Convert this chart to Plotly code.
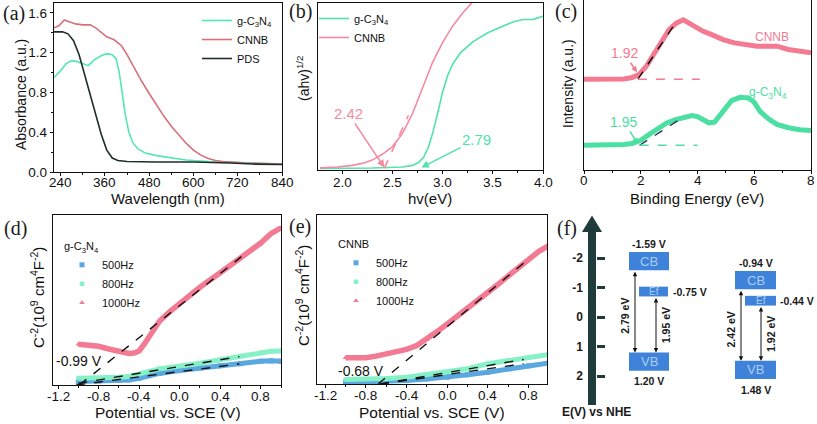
import plotly.graph_objects as go

W, H = 817, 424
def PX(x): return x / W
def PY(y): return 1 - y / H

SANS = "Liberation Sans, Arial, sans-serif"
SERIF = "Liberation Serif, Times New Roman, serif"
INK = "#111111"

# ---------------- (a) UV-vis absorbance ----------------
wl_g = [222, 240, 255, 270, 285, 300, 315, 332, 350, 365, 380, 390, 398, 406, 415, 425, 435, 450, 470, 500, 540, 580, 640, 720, 840]
abs_g = [0.95, 1.02, 1.09, 1.12, 1.11, 1.09, 1.07, 1.13, 1.17, 1.19, 1.18, 1.14, 1.02, 0.82, 0.58, 0.40, 0.30, 0.23, 0.19, 0.165, 0.14, 0.12, 0.105, 0.095, 0.08]
wl_c = [222, 235, 250, 265, 280, 300, 320, 335, 350, 365, 385, 405, 420, 440, 460, 480, 500, 520, 540, 560, 580, 600, 620, 640, 660, 680, 700, 740, 790, 840]
abs_c = [1.45, 1.47, 1.53, 1.51, 1.49, 1.48, 1.48, 1.45, 1.40, 1.36, 1.33, 1.27, 1.18, 1.04, 0.91, 0.79, 0.67, 0.56, 0.46, 0.37, 0.29, 0.22, 0.17, 0.135, 0.115, 0.105, 0.1, 0.09, 0.085, 0.08]
wl_p = [222, 245, 260, 275, 290, 305, 320, 335, 350, 365, 380, 395, 420, 500, 600, 700, 760, 840]
abs_p = [1.41, 1.41, 1.39, 1.32, 1.18, 0.98, 0.78, 0.57, 0.38, 0.22, 0.14, 0.115, 0.105, 0.1, 0.1, 0.09, 0.08, 0.075]
a_xticks = [240, 360, 480, 600, 720, 840]
a_xticktext = ["240", "360", "480", "600", "720", "840"]
a_yticks = [0.0, 0.4, 0.8, 1.2, 1.6]
a_yticktext = ["0.0", "0.4", "0.8", "1.2", "1.6"]

# ---------------- (b) Tauc plot ----------------
hv_g = [1.78, 2.3, 2.6, 2.7, 2.76, 2.81, 2.86, 2.9, 2.95, 3.0, 3.05, 3.1, 3.18, 3.3, 3.45, 3.6, 3.7, 3.8, 3.9, 3.95, 4.0]
ahv_g = [0.0, 0.002, 0.008, 0.018, 0.035, 0.065, 0.13, 0.21, 0.33, 0.46, 0.56, 0.63, 0.7, 0.765, 0.82, 0.86, 0.885, 0.9, 0.9, 0.91, 0.92]
hv_c = [1.78, 1.95, 2.1, 2.2, 2.3, 2.4, 2.5, 2.6, 2.7, 2.8, 2.9, 3.0, 3.1, 3.2, 3.32]
ahv_c = [0.003, 0.008, 0.018, 0.03, 0.05, 0.085, 0.13, 0.21, 0.33, 0.49, 0.64, 0.76, 0.86, 0.94, 1.02]
tan_b_x = [2.42, 2.66]
tan_b_y = [0.0, 0.32]
gap_b = [2.42, 2.79]
b_xticks = [2.0, 2.5, 3.0, 3.5, 4.0]
b_xticktext = ["2.0", "2.5", "3.0", "3.5", "4.0"]

# ---------------- (c) VB-XPS ----------------
be_c = [0, 0.5, 1.0, 1.4, 1.7, 1.95, 2.2, 2.45, 2.7, 3.0, 3.25, 3.5, 3.7, 3.9, 4.2, 4.5, 4.9, 5.3, 5.7, 6.1, 6.5, 6.8, 7.2, 7.6, 8.0]
int_c = [2.75, 2.75, 2.75, 2.76, 2.8, 2.9, 3.15, 3.5, 3.85, 4.25, 4.45, 4.55, 4.45, 4.35, 4.2, 4.1, 3.95, 3.85, 3.8, 3.75, 3.75, 3.75, 3.65, 3.6, 3.55]
be_g = [0, 0.5, 1.0, 1.4, 1.7, 2.0, 2.3, 2.6, 2.9, 3.2, 3.5, 3.8, 4.0, 4.2, 4.4, 4.6, 4.8, 5.0, 5.2, 5.5, 5.8, 6.0, 6.2, 6.5, 6.8, 7.2, 7.6, 8.0]
int_g = [0.75, 0.75, 0.75, 0.77, 0.8, 0.9, 1.08, 1.27, 1.42, 1.52, 1.6, 1.65, 1.62, 1.52, 1.43, 1.45, 1.65, 1.9, 2.1, 2.2, 2.18, 2.05, 1.78, 1.55, 1.38, 1.28, 1.22, 1.2]
tan_c_x = [1.9, 3.14]
tan_c_y = [2.75, 4.35]
base_c_x = [1.9, 4.08]
base_c_y = [2.75, 2.75]
tan_g_x = [1.96, 3.5]
tan_g_y = [0.75, 1.6]
base_g_x = [1.96, 4.0]
base_g_y = [0.75, 0.75]
c_xticks = [0, 2, 4, 6, 8]
c_xticktext = ["0", "2", "4", "6", "8"]

# ---------------- (d) Mott-Schottky g-C3N4 ----------------
v_d = [-1.0, -0.9, -0.8, -0.7, -0.6, -0.5, -0.45, -0.4, -0.35, -0.3, -0.2, -0.1, 0.0, 0.2, 0.4, 0.6, 0.8, 0.9, 1.0]
d_1000 = [0.24, 0.235, 0.228, 0.212, 0.196, 0.186, 0.188, 0.2, 0.24, 0.29, 0.375, 0.43, 0.48, 0.575, 0.66, 0.745, 0.835, 0.89, 0.925]
v_d2 = [-1.0, -0.8, -0.6, -0.5, -0.4, -0.3, -0.2, 0.0, 0.2, 0.4, 0.6, 0.8, 0.9, 1.0]
d_800 = [0.04, 0.04, 0.045, 0.05, 0.062, 0.08, 0.095, 0.11, 0.128, 0.148, 0.17, 0.19, 0.198, 0.2]
d_500 = [0.02, 0.023, 0.027, 0.03, 0.04, 0.055, 0.068, 0.085, 0.1, 0.113, 0.125, 0.14, 0.142, 0.14]
tan_d = {"1000Hz": ([-0.99, 0.61], [0.0, 0.755]),
         "800Hz": ([-1.0, 0.59], [0.01, 0.167]),
         "500Hz": ([-1.02, 0.59], [0.0, 0.124])}
efb_d = -0.99

# ---------------- (e) Mott-Schottky CNNB ----------------
v_e = [-1.0, -0.9, -0.8, -0.7, -0.6, -0.5, -0.4, -0.3, -0.2, -0.1, 0.0, 0.1, 0.2, 0.3, 0.4, 0.5, 0.6, 0.7, 0.8, 0.9, 1.0]
e_1000 = [0.155, 0.155, 0.155, 0.165, 0.178, 0.19, 0.205, 0.228, 0.265, 0.31, 0.355, 0.4, 0.45, 0.5, 0.545, 0.59, 0.64, 0.69, 0.74, 0.785, 0.82]
v_e2 = [-1.0, -0.8, -0.6, -0.4, -0.2, 0.0, 0.2, 0.4, 0.6, 0.8, 1.0]
e_800 = [0.026, 0.028, 0.032, 0.04, 0.055, 0.07, 0.09, 0.12, 0.14, 0.158, 0.175]
e_500 = [0.01, 0.012, 0.015, 0.02, 0.03, 0.04, 0.055, 0.07, 0.09, 0.108, 0.125]
tan_e = {"1000Hz": ([-0.68, 0.75], [0.0, 0.715]),
         "800Hz": ([-0.66, 0.75], [0.0, 0.145]),
         "500Hz": ([-0.66, 0.75], [0.0, 0.12])}
efb_e = -0.68
ms_xticks = [-1.2, -0.8, -0.4, 0.0, 0.4, 0.8]
ms_xticktext = ["-1.2", "-0.8", "-0.4", "0.0", "0.4", "0.8"]

# ---------------- (f) band structure ----------------
materials = ["g-C3N4", "CNNB"]
cb = [-1.59, -0.94]
vb = [1.20, 1.48]
ef = [-0.75, -0.44]
eg = [2.79, 2.42]
ef_vb = [1.95, 1.92]
f_ticks = [-2, -1, 0, 1, 2]
f_ticktext = ["-2", "-1", "0", "1", "2"]

# layout positions for (f) (pixel-like x units)
box_xc = [649, 755.5]
box_w = [40, 41]
ef_xc = [653.5, 760.5]
ef_w = [29, 31]
gap_ax = [635, 741]
efa_x = [656, 761]
BOX_H = 0.62

C_G_A, C_C_A, C_P_A = "#55e6b4", "#d8707a", "#1f2d2d"
C_G_B, C_C_B = "#52e2aa", "#f48aa2"
C_C_C, C_G_C = "#f47a92", "#4bdfa2"
C_PINK, C_MINT, C_BLUE = "#f27a92", "#86f0c6", "#5aa8df"
C_BOX = "#3f82da"
C_BOXTXT = "#a9cdf5"
C_ARROW = "#1f3b3b"

fig = go.Figure()

# (a)
fig.add_trace(go.Scatter(x=wl_g, y=abs_g, mode="lines", name="g-C<sub>3</sub>N<sub>4</sub>",
                         line=dict(color=C_G_A, width=1.6), xaxis="x", yaxis="y", legend="legend"))
fig.add_trace(go.Scatter(x=wl_c, y=abs_c, mode="lines", name="CNNB",
                         line=dict(color=C_C_A, width=1.6), xaxis="x", yaxis="y", legend="legend"))
fig.add_trace(go.Scatter(x=wl_p, y=abs_p, mode="lines", name="PDS",
                         line=dict(color=C_P_A, width=1.6), xaxis="x", yaxis="y", legend="legend"))

# (b)
fig.add_trace(go.Scatter(x=hv_g, y=ahv_g, mode="lines", name="g-C<sub>3</sub>N<sub>4</sub>",
                         line=dict(color=C_G_B, width=1.6), xaxis="x2", yaxis="y2", legend="legend2"))
fig.add_trace(go.Scatter(x=hv_c, y=ahv_c, mode="lines", name="CNNB",
                         line=dict(color=C_C_B, width=1.6), xaxis="x2", yaxis="y2", legend="legend2"))
fig.add_trace(go.Scatter(x=tan_b_x, y=tan_b_y, mode="lines", showlegend=False,
                         line=dict(color=C_C_B, width=1.6, dash="dash"), xaxis="x2", yaxis="y2"))

# (c)
fig.add_trace(go.Scatter(x=be_c, y=int_c, mode="lines", showlegend=False,
                         line=dict(color=C_C_C, width=5), xaxis="x3", yaxis="y3"))
fig.add_trace(go.Scatter(x=be_g, y=int_g, mode="lines", showlegend=False,
                         line=dict(color=C_G_C, width=5), xaxis="x3", yaxis="y3"))
for xs, ys, col in [(tan_c_x, tan_c_y, "#111111"), (base_c_x, base_c_y, C_C_C),
                    (tan_g_x, tan_g_y, "#22305a"), (base_g_x, base_g_y, C_G_C)]:
    fig.add_trace(go.Scatter(x=xs, y=ys, mode="lines", showlegend=False,
                             line=dict(color=col, width=1.4, dash="dash"), xaxis="x3", yaxis="y3"))

# (d) and (e)
def ms_panel(xa, ya, leg, v1, s1000, v2, s800, s500, tans):
    series = [("500Hz", v2, s500, C_BLUE, "square"),
              ("800Hz", v2, s800, C_MINT, "circle"),
              ("1000Hz", v1, s1000, C_PINK, "triangle-up")]
    for name, xv, yv, col, sym in series:
        fig.add_trace(go.Scatter(x=xv, y=yv, mode="markers", name=name,
                                 marker=dict(color=col, size=5, symbol=sym),
                                 xaxis=xa, yaxis=ya, legend=leg))
    for name, xv, yv, col, sym in series:
        fig.add_trace(go.Scatter(x=xv, y=yv, mode="lines", showlegend=False,
                                 line=dict(color=col, width=5.5 if name == "1000Hz" else 5),
                                 xaxis=xa, yaxis=ya))
    for name in ["1000Hz", "800Hz", "500Hz"]:
        tx, ty = tans[name]
        fig.add_trace(go.Scatter(x=tx, y=ty, mode="lines", showlegend=False,
                                 line=dict(color="#111111", width=1.4, dash="dash"),
                                 xaxis=xa, yaxis=ya))

ms_panel("x4", "y4", "legend3", v_d, d_1000, v_d2, d_800, d_500, tan_d)
ms_panel("x5", "y5", "legend4", v_e, e_1000, v_e2, e_800, e_500, tan_e)

# (f) band boxes as bars
bx, bbase, bh, bw = [], [], [], []
for i in range(2):
    bx += [box_xc[i], box_xc[i], ef_xc[i]]
    bbase += [cb[i] - BOX_H, vb[i], ef[i] - 0.28]
    bh += [BOX_H, BOX_H, 0.33]
    bw += [box_w[i], box_w[i], ef_w[i]]
fig.add_trace(go.Bar(x=bx, y=bh, base=bbase, width=bw, marker=dict(color=C_BOX, line=dict(width=0)),
                     showlegend=False, xaxis="x6", yaxis="y6", hoverinfo="skip"))

def axis(**kw):
    d = dict(showline=True, linecolor=INK, linewidth=1.3, mirror=True, showgrid=False, zeroline=False,
             ticks="outside", ticklen=3, tickwidth=1.1, tickcolor=INK, automargin=False,
             tickfont=dict(family=SANS, size=13.5, color=INK))
    d.update(kw)
    return d

noy = dict(showticklabels=False, ticks="")
nox = dict(showticklabels=False)

layout = dict(
    width=W, height=H, margin=dict(l=0, r=0, t=0, b=0, pad=0, autoexpand=False), autosize=False,
    paper_bgcolor="white", plot_bgcolor="white", barmode="overlay",
    font=dict(family=SANS, color=INK),
    xaxis=axis(domain=[PX(54), PX(282)], range=[222, 840], tickvals=a_xticks, anchor="y", **nox,
               minor=dict(ticks="outside", ticklen=2, dtick=60, tick0=240, tickcolor=INK)),
    yaxis=axis(domain=[PY(172), PY(3)], range=[0, 1.7], tickvals=a_yticks, ticktext=a_yticktext, anchor="x",
               minor=dict(ticks="outside", ticklen=2, dtick=0.2, tick0=0, tickcolor=INK)),
    xaxis2=axis(domain=[PX(318), PX(543)], range=[1.76, 4.0], tickvals=b_xticks, anchor="y2", **nox,
                minor=dict(ticks="outside", ticklen=2, dtick=0.25, tick0=2.0, tickcolor=INK)),
    yaxis2=axis(domain=[PY(170), PY(3)], range=[-0.01, 1.0], anchor="x2", **noy),
    xaxis3=axis(domain=[PX(584), PX(811)], range=[0, 8], tickvals=c_xticks, anchor="y3", **nox,
                minor=dict(ticks="outside", ticklen=2, dtick=1, tick0=0, tickcolor=INK)),
    yaxis3=axis(domain=[PY(170), 1.0], range=[0, 5.15], anchor="x3", **noy),
    xaxis4=axis(domain=[PX(53), PX(281)], range=[-1.25, 1.0], tickvals=ms_xticks, anchor="y4", **nox,
                minor=dict(ticks="outside", ticklen=2, dtick=0.2, tick0=-1.2, tickcolor=INK)),
    yaxis4=axis(domain=[PY(385), PY(215)], range=[0, 1.0], anchor="x4", **noy),
    xaxis5=axis(domain=[PX(317), PX(547)], range=[-1.28, 0.98], tickvals=ms_xticks, anchor="y5", **nox,
                minor=dict(ticks="outside", ticklen=2, dtick=0.2, tick0=-1.2, tickcolor=INK)),
    yaxis5=axis(domain=[PY(384), PY(215)], range=[0, 1.0], anchor="x5", **noy),
    xaxis6=dict(domain=[PX(560), 1.0], range=[560, 817], visible=False, anchor="y6", fixedrange=True,
                automargin=False),
    yaxis6=dict(domain=[PY(405), PY(215)], range=[2.98, -3.46], anchor="free", position=PX(596),
                showline=False, showgrid=False, zeroline=False, ticks="inside", ticklen=8, tickwidth=2.5,
                tickcolor=C_ARROW, tickvals=f_ticks, ticktext=f_ticktext, ticklabelstandoff=13, automargin=False,
                tickfont=dict(family=SANS, size=12, color="#1a1a1a", weight="bold")),
    legend=dict(x=PX(197), y=PY(6), xanchor="left", yanchor="top", bgcolor="rgba(0,0,0,0)",
                font=dict(size=11, family=SANS, color=INK)),
    legend2=dict(x=PX(314), y=PY(4), xanchor="left", yanchor="top", bgcolor="rgba(0,0,0,0)",
                 font=dict(size=11, family=SANS, color=INK)),
    legend3=dict(x=PX(62), y=PY(236), xanchor="left", yanchor="top", bgcolor="rgba(0,0,0,0)",
                 font=dict(size=11, family=SANS, color=INK), itemsizing="trace",
                 title=dict(text="g-C<sub>3</sub>N<sub>4</sub>", font=dict(size=11, family=SANS, color=INK))),
    legend4=dict(x=PX(336), y=PY(234), xanchor="left", yanchor="top", bgcolor="rgba(0,0,0,0)",
                 font=dict(size=11, family=SANS, color=INK), itemsizing="trace",
                 title=dict(text="CNNB", font=dict(size=11, family=SANS, color=INK))),
)
fig.update_layout(**layout)

ann = []
def text(x, y, s, size=15, color=INK, angle=0, family=SANS, xanchor="center", weight="normal"):
    ann.append(dict(x=PX(x), y=PY(y), xref="paper", yref="paper", text=s, showarrow=False,
                    font=dict(size=size, color=color, family=family, weight=weight), textangle=angle,
                    xanchor=xanchor, yanchor="middle"))

# x tick labels placed on each axis' own scale
for xref, vals, labels, ypx in [("x", a_xticks, a_xticktext, 182), ("x2", b_xticks, b_xticktext, 182),
                                ("x3", c_xticks, c_xticktext, 181), ("x4", ms_xticks, ms_xticktext, 396),
                                ("x5", ms_xticks, ms_xticktext, 395)]:
    for v, lab in zip(vals, labels):
        ann.append(dict(x=v, y=PY(ypx), xref=xref, yref="paper", text=lab, showarrow=False,
                        font=dict(size=13.5, color=INK, family=SANS), xanchor="center", yanchor="middle"))

# axis titles
text(168, 198, "Wavelength (nm)", 15)
text(21, 95, "Absorbance (a.u.)", 14, angle=-90)
text(430, 198, "hv(eV)", 15)
text(303, 78, "(ahv)<sup>1/2</sup>", 14, angle=-90)
text(697, 198, "Binding Energy (eV)", 15)
text(568, 84, "Intensity (a.u.)", 14, angle=-90)
text(168, 412, "Potential vs. SCE (V)", 15.5)
text(37, 298, "C<sup>-2</sup>(10<sup>9</sup> cm<sup>4</sup>F<sup>-2</sup>)", 15, angle=-90)
text(432, 412, "Potential vs. SCE (V)", 15.5)
text(302, 296, "C<sup>-2</sup>(10<sup>9</sup> cm<sup>4</sup>F<sup>-2</sup>)", 15, angle=-90)

# panel letters
for lab, x, y in [("(a)", 14, 13), ("(b)", 300, 12), ("(c)", 566, 12),
                  ("(d)", 15, 228), ("(e)", 300, 226), ("(f)", 567, 228)]:
    text(x, y, lab, 20, color="#1a1a1a", family=SERIF)

# (b) band gap arrows
ann.append(dict(x=gap_b[0], y=0.005, xref="x2", yref="y2", ax=-36, ay=-54, text=f"{gap_b[0]:.2f}",
                showarrow=True, arrowhead=2, arrowsize=1, arrowwidth=1.5, arrowcolor=C_C_B,
                font=dict(size=15, color=C_C_B, family=SANS), standoff=0))
ann.append(dict(x=gap_b[1], y=0.005, xref="x2", yref="y2", ax=55, ay=-28, text=f"{gap_b[1]:.2f}",
                showarrow=True, arrowhead=2, arrowsize=1, arrowwidth=1.5, arrowcolor=C_G_B,
                font=dict(size=15, color=C_G_B, family=SANS), standoff=0))

# (c) labels
ann.append(dict(x=1.87, y=2.96, xref="x3", yref="y3", ax=-13, ay=-19, text="1.92",
                showarrow=True, arrowhead=2, arrowsize=0.8, arrowwidth=1.5, arrowcolor=C_C_C,
                font=dict(size=14, color=C_C_C, family=SANS), standoff=0))
ann.append(dict(x=1.9, y=0.79, xref="x3", yref="y3", ax=-14, ay=-22, text="1.95",
                showarrow=True, arrowhead=2, arrowsize=0.8, arrowwidth=1.5, arrowcolor=C_G_C,
                font=dict(size=14, color=C_G_C, family=SANS), standoff=0))
text(772, 37, "CNNB", 12, color=C_C_C)
text(768, 93, "g-C<sub>3</sub>N<sub>4</sub>", 12, color=C_G_C)

# (d)/(e) flat band labels
text(79, 361, f"{efb_d:.2f} V", 14)
text(361, 371, f"{efb_e:.2f} V", 14)

# (f) labels
def ftext(x, y, s, size=10.5, color="#1a1a1a", angle=0, xanchor="center", weight="bold"):
    ann.append(dict(x=x, y=y, xref="x6", yref="y6", text=s, showarrow=False, textangle=angle,
                    font=dict(size=size, color=color, family=SANS, weight=weight),
                    xanchor=xanchor, yanchor="middle"))

for i in range(2):
    ftext(box_xc[i], cb[i] - BOX_H / 2, "CB", 13, C_BOXTXT, weight="normal")
    ftext(box_xc[i], vb[i] + BOX_H / 2, "VB", 13, C_BOXTXT, weight="normal")
    ftext(ef_xc[i], ef[i] - 0.115, "Ef", 10, C_BOXTXT, weight="normal")
    ftext(box_xc[i], cb[i] - BOX_H - 0.26, f"{cb[i]:.2f} V")
    ftext(box_xc[i], vb[i] + BOX_H + 0.36, f"{vb[i]:.2f} V")
    ftext(box_xc[i] + box_w[i] / 2 + 2, ef[i] - 0.115, f"{ef[i]:.2f} V", xanchor="left")
    ftext(gap_ax[i] - 10, (cb[i] + vb[i]) / 2 + 0.15, f"{eg[i]:.2f} eV", angle=-90)
    ftext(efa_x[i] + 10, (ef[i] + vb[i]) / 2 + 0.05, f"{ef_vb[i]:.2f} eV", angle=-90)
    ann.append(dict(x=gap_ax[i], y=vb[i], ax=gap_ax[i], ay=cb[i], xref="x6", yref="y6",
                    axref="x6", ayref="y6", text="", showarrow=True, arrowhead=2, arrowside="end+start",
                    arrowsize=0.9, arrowwidth=1, arrowcolor="#111111", standoff=0, startstandoff=0))
    ann.append(dict(x=efa_x[i], y=vb[i], ax=efa_x[i], ay=ef[i] + 0.05, xref="x6", yref="y6",
                    axref="x6", ayref="y6", text="", showarrow=True, arrowhead=2, arrowside="end+start",
                    arrowsize=0.9, arrowwidth=1, arrowcolor="#111111", standoff=0, startstandoff=0))

text(596, 412, "E(V) vs NHE", 12, color="#1a1a1a", weight="bold")

fig.update_layout(annotations=ann)

# big potential arrow
fig.add_shape(type="rect", xref="x6", yref="y6", x0=588, x1=596, y0=2.98, y1=-2.9,
              fillcolor=C_ARROW, line=dict(width=0))
fig.add_shape(type="path", xref="x6", yref="y6", path="M 582,-2.88 L 602,-2.88 L 592,-3.44 Z",
              fillcolor=C_ARROW, line=dict(width=0))

fig.write_html("out.html", config={"displayModeBar": False},
               post_script="document.body.style.margin='0';document.body.style.padding='0';"
                           "document.body.style.overflow='hidden';")
